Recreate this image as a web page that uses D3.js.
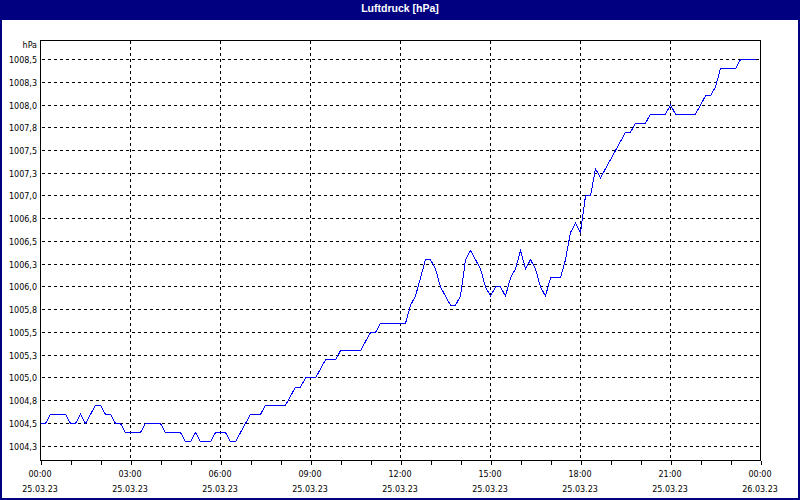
<!DOCTYPE html>
<html>
<head>
<meta charset="utf-8">
<script src="https://cdn.jsdelivr.net/npm/d3@7"></script>
<style>
  body { margin: 0; background: #fff; }
  svg { display: block; }
  .tickText { font-family: "DejaVu Sans", Tahoma, sans-serif; font-size: 8px; fill: #000; }
</style>
</head>
<body>
<script>
// readings every 10 minutes, 25.03.23 00:00 .. 23:50
var startTime = new Date(2023, 2, 25, 0, 0);
var endTime = new Date(2023, 2, 26, 0, 0);
var stepMinutes = 10;
var pressure = [
  1004.5, 1004.5, 1004.6, 1004.6, 1004.6, 1004.6, 1004.5, 1004.5, 1004.6, 1004.5,
  1004.6, 1004.7, 1004.7, 1004.6, 1004.6, 1004.5, 1004.5, 1004.4, 1004.4, 1004.4,
  1004.4, 1004.5, 1004.5, 1004.5, 1004.5, 1004.4, 1004.4, 1004.4, 1004.4, 1004.3,
  1004.3, 1004.4, 1004.3, 1004.3, 1004.3, 1004.4, 1004.4, 1004.4, 1004.3, 1004.3,
  1004.4, 1004.5, 1004.6, 1004.6, 1004.6, 1004.7, 1004.7, 1004.7, 1004.7, 1004.7,
  1004.8, 1004.9, 1004.9, 1005.0, 1005.0, 1005.0, 1005.1, 1005.2, 1005.2, 1005.2,
  1005.3, 1005.3, 1005.3, 1005.3, 1005.3, 1005.4, 1005.5, 1005.5, 1005.6, 1005.6,
  1005.6, 1005.6, 1005.6, 1005.6, 1005.8, 1005.9, 1006.1, 1006.3, 1006.3, 1006.2,
  1006.0, 1005.9, 1005.8, 1005.8, 1005.9, 1006.3, 1006.4, 1006.3, 1006.2, 1006.0,
  1005.9, 1006.0, 1006.0, 1005.9, 1006.1, 1006.2, 1006.4, 1006.2, 1006.3, 1006.2,
  1006.0, 1005.9, 1006.1, 1006.1, 1006.1, 1006.3, 1006.6, 1006.7, 1006.6, 1007.0,
  1007.0, 1007.3, 1007.2, 1007.3, 1007.4, 1007.5, 1007.6, 1007.7, 1007.7, 1007.8,
  1007.8, 1007.8, 1007.9, 1007.9, 1007.9, 1007.9, 1008.0, 1007.9, 1007.9, 1007.9,
  1007.9, 1007.9, 1008.0, 1008.1, 1008.1, 1008.2, 1008.4, 1008.4, 1008.4, 1008.4,
  1008.5, 1008.5, 1008.5, 1008.5
];
var yTicks = [1004.25, 1004.5, 1004.75, 1005.0, 1005.25, 1005.5, 1005.75, 1006.0,
  1006.25, 1006.5, 1006.75, 1007.0, 1007.25, 1007.5, 1007.75, 1008.0, 1008.25, 1008.5];
var yDomain = [1004.093, 1008.709];
var titleText = "Luftdruck [hPa]";
var unitText = "hPa";

var svgWidth = 800;
var svgHeight = 500;
var margin = { top: 40, right: 40, bottom: 40, left: 40 };
var width = svgWidth - margin.left - margin.right;   // 720
var height = svgHeight - margin.top - margin.bottom; // 420

var data = pressure.map(function(v, i) {
  return { time: d3.timeMinute.offset(startTime, i * stepMinutes), value: v };
});

var svg = d3.select("body").append("svg")
  .attr("width", svgWidth)
  .attr("height", svgHeight);

// window frame + title bar
svg.append("rect")
  .attr("x", 1).attr("y", 1)
  .attr("width", svgWidth - 2).attr("height", svgHeight - 2)
  .attr("fill", "#fff")
  .attr("stroke", "#000080")
  .attr("stroke-width", 2);
svg.append("rect")
  .attr("x", 0).attr("y", 0)
  .attr("width", svgWidth).attr("height", 20)
  .attr("fill", "#000080");
svg.append("text")
  .attr("x", svgWidth / 2).attr("y", 12)
  .attr("text-anchor", "middle")
  .attr("font-family", "'Liberation Sans', Arial, sans-serif")
  .attr("font-size", "10.5px")
  .attr("font-weight", "bold")
  .attr("fill", "#fff")
  .text(titleText);

var xScale = d3.scaleTime().domain([startTime, endTime]).range([0, width]);
var yScale = d3.scaleLinear().domain(yDomain).range([height, 0]);

var chartGroup = svg.append("g")
  .attr("transform", "translate(" + (margin.left + 0.5) + "," + (margin.top + 0.5) + ")");

// dashed grid
var gridTimes = d3.timeHour.every(3).range(d3.timeHour.offset(startTime, 1), endTime);
chartGroup.selectAll(".vgrid")
  .data(gridTimes)
  .enter()
  .append("line")
  .attr("class", "vgrid")
  .attr("x1", d => Math.round(xScale(d))).attr("x2", d => Math.round(xScale(d)))
  .attr("y1", 0).attr("y2", height)
  .attr("stroke", "#000")
  .attr("stroke-dasharray", "3,3")
  .attr("shape-rendering", "crispEdges");

chartGroup.selectAll(".hgrid")
  .data(yTicks)
  .enter()
  .append("line")
  .attr("class", "hgrid")
  .attr("x1", 1).attr("x2", width)
  .attr("y1", d => Math.round(yScale(d))).attr("y2", d => Math.round(yScale(d)))
  .attr("stroke", "#000")
  .attr("stroke-dasharray", "3,3")
  .attr("shape-rendering", "crispEdges");

// plot box
chartGroup.append("rect")
  .attr("x", 0).attr("y", 0)
  .attr("width", width).attr("height", height)
  .attr("fill", "none")
  .attr("stroke", "#000")
  .attr("shape-rendering", "crispEdges");

// hourly ticks under the box
var bottomAxis = d3.axisBottom(xScale)
  .ticks(d3.timeHour.every(1))
  .tickSize(4)
  .tickSizeOuter(0)
  .tickFormat("");
var axisG = chartGroup.append("g")
  .attr("transform", "translate(0," + height + ")")
  .call(bottomAxis);
axisG.select(".domain").remove();
axisG.selectAll("line").attr("shape-rendering", "crispEdges");

// x labels every 3 hours: time + date
var labelTimes = d3.timeHour.every(3).range(startTime, d3.timeMinute.offset(endTime, 1));
var fmtTime = d3.timeFormat("%H:%M");
var fmtDate = d3.timeFormat("%d.%m.%y");
svg.selectAll(".xTime")
  .data(labelTimes)
  .enter()
  .append("text")
  .attr("class", "tickText")
  .attr("x", d => margin.left + xScale(d))
  .attr("y", 477)
  .attr("text-anchor", "middle")
  .text(d => fmtTime(d));
svg.selectAll(".xDate")
  .data(labelTimes)
  .enter()
  .append("text")
  .attr("class", "tickText")
  .attr("x", d => margin.left + xScale(d))
  .attr("y", 492)
  .attr("text-anchor", "middle")
  .text(d => fmtDate(d));

// y labels
var fmtY = d3.format(".1f");
svg.selectAll(".yLabel")
  .data(yTicks)
  .enter()
  .append("text")
  .attr("class", "tickText")
  .attr("x", 37)
  .attr("y", d => margin.top + Math.round(yScale(d)) + 3.5)
  .attr("text-anchor", "end")
  .text(d => fmtY(d).replace(".", ","));
svg.append("text")
  .attr("class", "tickText")
  .attr("x", 37).attr("y", 48)
  .attr("text-anchor", "end")
  .text(unitText);

// pressure line
var line = d3.line()
  .x(d => xScale(d.time))
  .y(d => yScale(d.value));
chartGroup.append("path")
  .datum(data)
  .attr("d", line)
  .attr("fill", "none")
  .attr("stroke", "#0000ff")
  .attr("stroke-width", 1)
  .attr("shape-rendering", "crispEdges");
</script>
</body>
</html>
